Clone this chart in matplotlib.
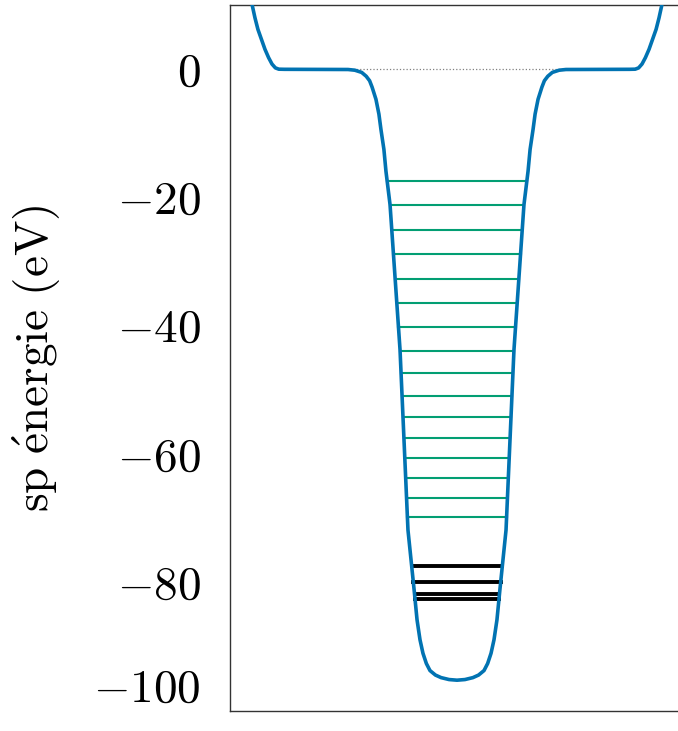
import numpy as np
import matplotlib
matplotlib.use("Agg")
import matplotlib.pyplot as plt

plt.rcParams['font.family'] = 'serif'
plt.rcParams['font.serif'] = ['cmr10']
plt.rcParams['mathtext.fontset'] = 'cm'
plt.rcParams['axes.formatter.use_mathtext'] = True

# potentiel (moitie gauche), r en unites arbitraires
r_gauche = [-9.15, -9.03, -8.9, -8.77, -8.6, -8.46, -8.3, -8.15, -8.0, -7.85, -7.6,
            -4.8, -4.5, -4.2, -4.0, -3.85, -3.74, -3.57, -3.44, -3.35, -3.22, -3.13,
            -2.95, -2.51, -2.16, -1.89, -1.76, -1.63, -1.50, -1.35, -1.19, -0.95,
            -0.70, -0.35, 0.0]
V_gauche = [11.0, 10.1, 8.0, 6.2, 4.5, 3.1, 1.8, 0.8, 0.2, 0.0, -0.02,
            -0.05, -0.16, -0.5, -1.1, -1.8, -2.8, -4.7, -7.0, -9.4, -12.5, -15.9,
            -21.1, -43.7, -71.8, -81.1, -85.8, -88.9, -91.0, -92.6, -93.7, -94.4,
            -94.8, -95.1, -95.2]

# niveaux a une particule
niveaux_verts = [-17.43, -21.17, -25.01, -28.86, -32.65, -36.46, -40.20, -43.84,
                 -47.38, -50.90, -54.24, -57.46, -60.64, -63.76, -66.88, -69.77]
niveaux_noirs = [-77.43, -79.91, -81.80, -82.57]

graduations = [0, -20, -40, -60, -80, -100]

r_gauche = np.array(r_gauche)
V_gauche = np.array(V_gauche)
r = np.concatenate([r_gauche, -r_gauche[::-1][1:]])
V = np.concatenate([V_gauche, V_gauche[::-1][1:]])

# branche du puits pour trouver les bords
puits = r_gauche >= -4.8
r_puits = r_gauche[puits]
V_puits = V_gauche[puits]

def bord(e):
    return np.interp(e, V_puits[::-1], r_puits[::-1])

fig = plt.figure(figsize=(6.78, 7.31), dpi=100)
ax = fig.add_axes([230/678, 20/731, 454/678, 706/731])

ax.plot([-4.6, 4.6], [0, 0], ls=':', color='gray', lw=0.9, zorder=1)
for e in niveaux_verts:
    b = bord(e)
    ax.plot([b, -b], [e, e], color='#029e73', lw=1.5, zorder=2)
for e in niveaux_noirs:
    b = bord(e)
    ax.plot([b, -b], [e, e], color='black', lw=2.8, zorder=2)
ax.plot(r, V, color='#0173b2', lw=2.6, zorder=3)

ax.set_xlim(-10, 10)
ax.set_ylim(-100, 10)
ax.set_xticks([])
ax.set_yticks(graduations)
ax.tick_params(axis='y', length=0, labelsize=34, pad=21)
# le -100 reste au-dessus du bas de la figure
for lab, g in zip(ax.get_yticklabels(), graduations):
    if g == -100:
        lab.set_va('bottom')
ax.set_ylabel(r'$\mathrm{sp\ \acute{e}nergie\ (eV)}$', fontsize=34, labelpad=22)
for s in ax.spines.values():
    s.set_color('#333333')
    s.set_linewidth(1.0)

fig.savefig('out.png', dpi=100)
